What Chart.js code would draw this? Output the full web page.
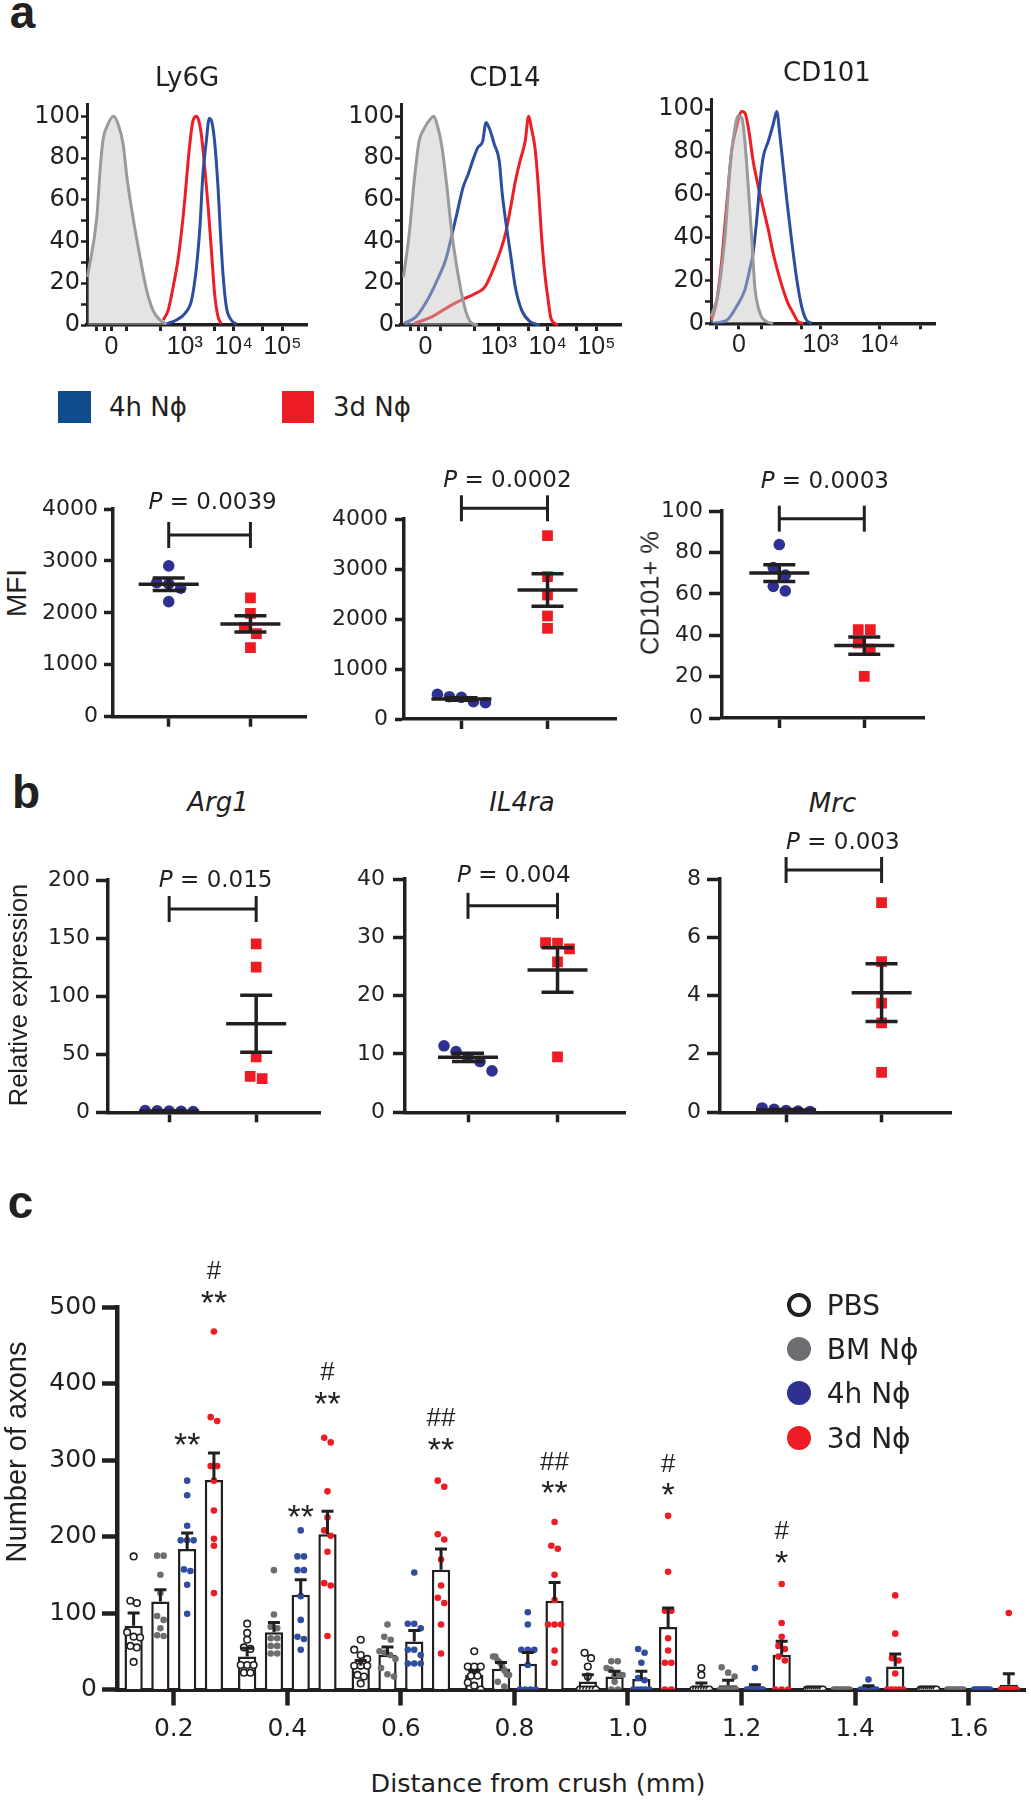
<!DOCTYPE html>
<html>
<head>
<meta charset="utf-8">
<title>Neutrophil subsets</title>
<script src="https://cdn.jsdelivr.net/npm/chart.js@4.4.1/dist/chart.umd.min.js"></script>
<style>
  body { margin: 0; background: #fff; }
  #fig { position: relative; width: 1031px; height: 1800px; overflow: hidden; background: #fff; color: #231f20; }
  #fig canvas { position: absolute; }
  .t, .l, .r { position: absolute; white-space: nowrap; line-height: 1; }
  .t { transform: translate(-50%, -50%); }
  .l { transform: translate(0, -50%); }
  .r { transform: translate(-50%, -50%) rotate(-90deg); }
  .mk { position: absolute; box-sizing: border-box; }
</style>
</head>
<body>
<div id="fig"></div>
<script>
// ---------- data ----------
// a, top row: flow histograms as [display position, % of max]. 0 sits near 1.5, 10^3 at 3, 10^4 at 4, 10^5 at 5
const ly6gGray = [[1.01,23],[1.2,51.6],[1.27,75],[1.33,89],[1.4,94.6],[1.54,100],[1.64,96],[1.74,86.5],[1.81,72],[1.91,56],[2.05,37],[2.22,16.7],[2.35,7],[2.49,2.4],[2.63,0.5]];
const ly6gBlue = [[2.63,0.5],[2.83,2.4],[3.0,5.5],[3.14,12],[3.24,28],[3.31,47],[3.37,72],[3.44,88],[3.5,99],[3.55,97.6],[3.61,88],[3.68,66],[3.73,44],[3.78,25],[3.85,8.7],[3.95,2.4],[4.06,0.5]];
const ly6gRed = [[2.56,2.4],[2.66,7],[2.76,18],[2.86,31],[2.93,44],[3.0,60],[3.07,79],[3.14,94],[3.17,98],[3.24,100],[3.29,97.6],[3.34,91],[3.41,75],[3.48,56],[3.55,34],[3.61,15],[3.68,4],[3.75,0.5]];

const cd14Gray = [[1.05,23],[1.17,44],[1.27,69],[1.37,88],[1.47,94],[1.61,99],[1.67,100],[1.74,96],[1.84,85],[1.94,66],[2.04,44],[2.14,28],[2.24,15],[2.34,5.5],[2.44,1],[2.57,0]];
const cd14Blue = [[1.07,0.8],[1.31,4],[1.54,12],[1.71,20],[1.91,31],[2.01,40],[2.14,53],[2.27,66],[2.37,72],[2.47,79],[2.57,85],[2.67,88],[2.74,97],[2.81,94],[2.91,86.5],[3.01,78.5],[3.07,63],[3.14,50],[3.24,34],[3.34,18],[3.47,7],[3.64,1.6],[3.84,0]];
const cd14Red = [[1.27,0.8],[1.64,4],[1.97,8.7],[2.24,12],[2.51,15],[2.71,18],[2.91,28],[3.04,36],[3.14,44],[3.24,56],[3.34,69],[3.44,79],[3.54,88],[3.61,100],[3.67,94],[3.74,85],[3.81,66],[3.87,44],[3.94,25],[4.01,12],[4.07,3],[4.21,0]];

const cd101Gray = [[1.15,3],[1.27,14],[1.39,42],[1.47,73],[1.53,87],[1.61,97],[1.67,96],[1.72,85.6],[1.78,63.6],[1.84,38.8],[1.89,17],[1.98,4.6],[2.09,0.8],[2.2,0]];
const cd101Blue = [[1.19,0],[1.42,1.5],[1.58,7.8],[1.72,15.5],[1.81,26],[1.86,32.6],[1.92,48],[1.98,66.7],[2.03,77.5],[2.12,85.3],[2.2,93],[2.26,99],[2.31,88.4],[2.37,73],[2.43,57.4],[2.51,38.8],[2.6,20],[2.68,7.8],[2.76,1.5],[2.85,0]];
const cd101Red = [[1.16,1.5],[1.25,11],[1.33,29],[1.42,57],[1.5,80.6],[1.58,91.5],[1.67,99],[1.72,98.4],[1.78,91.5],[1.86,76],[1.95,63.6],[2.03,54],[2.12,43.4],[2.2,32.6],[2.29,23],[2.37,15.5],[2.45,9.3],[2.54,4.6],[2.62,0.8],[2.71,0]];

const decadeTicks = [1.5, 3, 4, 5];
const decadeLabels = ['0', '10³', '10⁴', '10⁵'];
const decadeMinor = [1.2, 1.35, 1.8, 2.5, 3.6, 4.6];
const cd101Ticks = [1.62, 3, 4];
const cd101Labels = ['0', '10³', '10⁴'];
const cd101Minor = [1.25, 2.0, 2.68, 4.69];
const pctTicks = [0, 10, 20, 30, 40, 50, 60, 70, 80, 90, 100];

// a, second row: 4h (blue) vs 3d (red)
const ly6gMfi4h = [2904, 2582, 2557, 2474, 2216];
const ly6gMfi3d = [2290, 1990, 1720, 1600, 1330];
const ly6gMfiMean = [2550, 1786], ly6gMfiSem = [120, 157];
const cd14Mfi4h = [494, 446, 434, 346, 326];
const cd14Mfi3d = [3667, 2847, 2480, 2060, 1813];
const cd14MfiMean = [400, 2580], cd14MfiSem = [25, 326];
const cd101Pct4h = [83.8, 72.7, 69, 63.6, 61.4];
const cd101Pct3d = [42.7, 42.7, 36.2, 33.3, 20.1];
const cd101PctMean = [70, 35], cd101PctSem = [4.05, 4.15];
const mfiTicks = [0, 1000, 2000, 3000, 4000];

// b: relative expression
const arg1_4h = [1.5, 1.2, 1, 0.8, 0.6];
const arg1_3d = [145, 125, 47.7, 31, 29];
const arg1Mean = [1, 76.3], arg1Sem = [0.2, 24.5];
const il4ra4h = [11.4, 10.4, 9.4, 8.7, 7.1];
const il4ra3d = [29.1, 29, 28, 25.8, 9.5];
const il4raMean = [9.43, 24.4], il4raSem = [0.7, 3.8];
const mrc4h = [0.15, 0.1, 0.06, 0.04, 0.03];
const mrc3d = [7.19, 5.17, 3.74, 3.07, 1.37];
const mrcMean = [0.08, 4.1], mrcSem = [0.02, 0.99];

const pValues = ['0.0039', '0.0002', '0.0003', '0.015', '0.004', '0.003'];
const bracketLevels = [3500, 4214, 96.3, 175, 35.4, 8.31];

// c: axons per distance from crush
const distances = [0.2, 0.4, 0.6, 0.8, 1.0, 1.2, 1.4, 1.6];
const treatments = ['PBS', 'BM Nϕ', '4h Nϕ', '3d Nϕ'];
const pbsMean = [83.4, 43.3, 31, 19.3, 10.6, 5, 0, 0];
const pbsSem = [16.6, 10.7, 7, 5.7, 8.7, 3.5, 0, 0];
const bmMean = [115, 74.7, 45.5, 27, 17, 5.4, 0, 0];
const bmSem = [15.5, 13, 10, 8.4, 6.7, 6.6, 0, 0];
const h4Mean = [183.7, 124, 62.9, 33.7, 13.7, 4, 2, 0];
const h4Sem = [20.9, 19.5, 14.1, 14.8, 10, 2.3, 3, 0];
const d3Mean = [274, 203, 156.6, 116, 81.7, 45.5, 30.2, 6.3];
const d3Sem = [35, 30, 27.1, 24, 24.8, 17.5, 16.2, 14.3];

const pbsPts = [
  [174, 116, 113, 75, 69, 68, 57, 55, 36],
  [86, 74, 65, 55, 53, 32, 32, 32, 22, 22],
  [65, 52, 45, 40, 31, 31, 31, 19, 17, 8],
  [50, 30, 30, 30, 18, 18, 9, 5, 0],
  [48, 41, 30, 17, 0, 0, 0, 0, 0, 0],
  [28, 19, 0, 0, 0, 0, 0, 0, 0],
  [0, 0, 0, 0, 0, 0, 0, 0, 0],
  [0, 0, 0, 0, 0, 0, 0, 0, 0]
];
const bmPts = [
  [175, 175, 150, 126, 96, 91, 80, 71, 70],
  [156, 98, 82, 80, 67, 67, 57, 57, 47, 47],
  [85, 69, 65, 50, 48, 45, 40, 28, 20, 17],
  [43, 43, 38, 35, 30, 25, 20, 19, 10, 4],
  [37, 37, 28, 26, 19, 19, 19, 10, 0, 0],
  [29, 22, 17, 0, 0, 0, 0, 0, 0, 0],
  [0, 0, 0, 0, 0, 0, 0, 0, 0],
  [0, 0, 0, 0, 0, 0, 0, 0, 0]
];
const h4Pts = [
  [273, 254, 214, 195, 195, 195, 157, 155, 137, 99],
  [208, 174, 174, 156, 156, 122, 91, 69, 66, 52],
  [153, 86, 86, 80, 52, 52, 45, 34, 34, 34],
  [101, 85, 52, 52, 52, 32, 0, 0, 0, 0],
  [53, 48, 35, 15, 12, 0, 0, 0, 0, 0],
  [28, 0, 0, 0, 0, 0, 0, 0, 0],
  [13, 0, 0, 0, 0, 0, 0, 0, 0],
  [0, 0, 0, 0, 0, 0, 0, 0, 0]
];
const d3Pts = [
  [468, 356, 351, 292, 292, 273, 234, 197, 188, 126],
  [329, 323, 259, 225, 208, 201, 180, 139, 136, 70],
  [273, 265, 203, 196, 170, 136, 120, 113, 85, 47],
  [219, 188, 184, 150, 117, 85, 85, 85, 51, 35],
  [227, 154, 103, 103, 67, 51, 35, 35, 0, 0],
  [138, 87, 69, 57, 53, 43, 38, 0, 0, 0],
  [123, 73, 41, 38, 21, 0, 0, 0, 0, 0],
  [100, 0, 0, 0, 0, 0, 0, 0, 0, 0]
];
// [distance, treatment index, mark, level]
const sigMarks = [
  [0.2, 2, '**', 331], [0.2, 3, '**', 516], [0.2, 3, '#', 549],
  [0.4, 2, '**', 236], [0.4, 3, '**', 384], [0.4, 3, '#', 416],
  [0.6, 3, '**', 323.5], [0.6, 3, '##', 356],
  [0.8, 3, '**', 268], [0.8, 3, '##', 299],
  [1.0, 3, '*', 265], [1.0, 3, '#', 296],
  [1.2, 3, '*', 176], [1.2, 3, '#', 209]
];

// ---------- layout & style ----------
const INK = '#231f20';
const SANS = '"DejaVu Sans", sans-serif';
const ARIAL = '"Liberation Sans", Arial, sans-serif';
const BLUE = '#2e3192', RED = '#ed1c24', GRAY = '#6d6e71', DOTBLUE = '#2f4c9f';
const fig = document.getElementById('fig');

// plot areas in page pixels, axis ranges, and room around them [left, top, right, bottom]
const GEO = {
  h1: {L: 87, T: 103, R: 307, B: 325, xmin: 1.0, xmax: 5.5, ymax: 105.7, pad: [60, 14, 16, 40]},
  h2: {L: 401, T: 103, R: 621, B: 325, xmin: 1.0, xmax: 5.5, ymax: 105.7, pad: [60, 14, 16, 40]},
  h3: {L: 711, T: 98, R: 935, B: 323.3, xmin: 1.15, xmax: 4.93, ymax: 104.6, pad: [60, 14, 16, 40]},
  d1: {L: 113.3, T: 509, R: 306.7, B: 716.7, xmin: 0.318, xmax: 2.685, ymax: 4000, pad: [80, 40, 15, 30], tl: 9, tp: 6},
  d2: {L: 404.3, T: 519, R: 616.7, B: 719, xmin: 0.333, xmax: 2.8, ymax: 4000, pad: [80, 55, 15, 30], tl: 9, tp: 7},
  d3: {L: 721.7, T: 510.7, R: 924, B: 717.7, xmin: 0.326, xmax: 2.706, ymax: 100, pad: [80, 45, 15, 30], tl: 13, tp: 6},
  b1: {L: 108.3, T: 880, R: 320.6, B: 1112.3, xmin: 0.297, xmax: 2.737, ymax: 200, pad: [80, 30, 15, 30], tl: 12, tp: 6},
  b2: {L: 404.5, T: 879, R: 624.6, B: 1112.3, xmin: 0.296, xmax: 2.755, ymax: 40, pad: [80, 45, 15, 30], tl: 12, tp: 8},
  b3: {L: 720.4, T: 879, R: 951.7, B: 1112.3, xmin: 0.308, xmax: 2.73, ymax: 8, pad: [80, 50, 15, 30], tl: 13, tp: 6},
  c:  {L: 117, T: 1307.3, R: 1028, B: 1689.8, xmin: 0.1, xmax: 1.7, ymax: 500, pad: [100, 125, 3, 60]}
};

function txt(s, x, y, font, cls) {
  const d = document.createElement('div');
  d.className = cls || 't';
  d.textContent = s;
  d.style.left = x + 'px';
  d.style.top = y + 'px';
  d.style.font = font;
  fig.appendChild(d);
  return d;
}

function marker(x, y, w, h, css) {
  const d = document.createElement('div');
  d.className = 'mk';
  d.style.cssText += `left:${x}px;top:${y}px;width:${w}px;height:${h}px;` + css;
  fig.appendChild(d);
}

// the y axis takes the whole left margin and the x axis the whole bottom margin,
// so the plot area lands exactly on L/T/R/B
function addChart(g, cfg) {
  const w = Math.round(g.R - g.L + g.pad[0] + g.pad[2]);
  const h = Math.round(g.B - g.T + g.pad[1] + g.pad[3]);
  const cv = document.createElement('canvas');
  cv.width = w; cv.height = h;
  cv.style.left = (g.L - g.pad[0]) + 'px';
  cv.style.top = (g.T - g.pad[1]) + 'px';
  cv.style.width = w + 'px'; cv.style.height = h + 'px';
  fig.appendChild(cv);
  cfg.options.responsive = false;
  cfg.options.animation = false;
  cfg.options.events = [];
  cfg.options.layout = {padding: {left: 0, top: g.pad[1], right: w - g.pad[0] - (g.R - g.L), bottom: 0}};
  cfg.options.plugins = {legend: {display: false}, tooltip: {enabled: false}};
  cfg.options.scales.x.afterFit = s => { s.height = h - g.pad[1] - (g.B - g.T); };
  cfg.options.scales.y.afterFit = s => { s.width = g.pad[0]; };
  return new Chart(cv, cfg);
}

function axis(o) {
  return {
    type: 'linear', position: o.pos, min: o.min, max: o.max, bounds: 'data', offset: false,
    border: {display: true, width: o.bw, color: INK},
    grid: {display: true, offset: false, drawOnChartArea: false, drawTicks: true, tickLength: o.tl, tickWidth: o.tw, tickColor: INK},
    ticks: {display: !!o.font, color: INK, font: o.font, padding: o.pad || 0, autoSkip: false, maxRotation: 0, minRotation: 0,
            callback: o.cb || (v => String(v))},
    afterBuildTicks: s => { s.ticks = o.ticks.slice().sort((a, b) => a - b).map(v => ({value: v})); }
  };
}

// spread points that would overlap side by side, centred on cx
function swarm(vals, cx, thr, step, maxSpread) {
  const order = vals.map((v, i) => i).sort((a, b) => vals[b] - vals[a]);
  const out = new Array(vals.length);
  let cl = [];
  const flush = () => {
    const n = cl.length;
    let s = step;
    if (maxSpread && n > 1) s = Math.min(step, 2 * maxSpread / (n - 1));
    cl.forEach((idx, j) => { out[idx] = {x: cx + (j - (n - 1) / 2) * s, y: vals[idx]}; });
    cl = [];
  };
  order.forEach(i => {
    if (cl.length && vals[cl[cl.length - 1]] - vals[i] >= thr) flush();
    cl.push(i);
  });
  flush();
  return out;
}

function drawP(ctx, cx, cy, value, size) {
  const it = `italic ${size}px ${SANS}`, rg = `${size}px ${SANS}`;
  const rest = ' = ' + value;
  ctx.font = it; const w1 = ctx.measureText('P').width;
  ctx.font = rg; const w2 = ctx.measureText(rest).width;
  const x0 = cx - (w1 + w2) / 2;
  ctx.fillStyle = INK; ctx.textAlign = 'left'; ctx.textBaseline = 'middle';
  ctx.font = it; ctx.fillText('P', x0, cy);
  ctx.font = rg; ctx.fillText(rest, x0 + w1, cy);
}

// ---------- a: histograms ----------
function hist(g, gray, blue, red, major, labels, minor) {
  const ds = (pts, color, fill) => ({
    data: pts.map(p => ({x: p[0], y: p[1]})),
    borderColor: color, borderWidth: 3, pointRadius: 0,
    cubicInterpolationMode: 'monotone',
    fill: fill ? 'origin' : false,
    backgroundColor: fill ? 'rgba(195,195,195,0.45)' : 'transparent',
    clip: false
  });
  addChart(g, {
    type: 'line',
    data: {datasets: [ds(gray, '#9a9a9a', true), ds(blue, '#2d4ea0', false), ds(red, '#ee1d26', false)]},
    options: {
      scales: {
        x: axis({pos: 'bottom', min: g.xmin, max: g.xmax, ticks: major.concat(minor),
                 cb: v => { const i = major.indexOf(v); return i < 0 ? '' : labels[i]; },
                 bw: 3.5, tl: 6, tw: 3, pad: 1, font: {family: ARIAL, size: 25}}),
        y: axis({pos: 'left', min: 0, max: g.ymax, ticks: pctTicks, cb: v => (v % 20 === 0 ? String(v) : ''),
                 bw: 3, tl: 6, tw: 2.5, pad: 1, font: {family: SANS, size: 24}})
      }
    }
  });
}
hist(GEO.h1, ly6gGray, ly6gBlue, ly6gRed, decadeTicks, decadeLabels, decadeMinor);
hist(GEO.h2, cd14Gray, cd14Blue, cd14Red, decadeTicks, decadeLabels, decadeMinor);
hist(GEO.h3, cd101Gray, cd101Blue, cd101Red, cd101Ticks, cd101Labels, cd101Minor);

// ---------- a (row 2) and b: dot plots ----------
function dotPlot(g, blue, red, means, sems, yTicks, pIdx, pGap, pDx) {
  const pxX = (g.R - g.L) / (g.xmax - g.xmin), pxY = (g.B - g.T) / g.ymax;
  const thr = 10 / pxY, step = 12 / pxX;
  const clip = {left: false, top: false, right: false, bottom: 0};
  const stats = {
    id: 'stats',
    afterDatasetsDraw(chart) {
      const {ctx} = chart, x = chart.scales.x, y = chart.scales.y;
      const seg = (x1, y1, x2, y2) => { ctx.beginPath(); ctx.moveTo(x1, y1); ctx.lineTo(x2, y2); ctx.stroke(); };
      ctx.save();
      ctx.strokeStyle = INK; ctx.lineWidth = 3.5;
      means.forEach((m, i) => {
        const cx = x.getPixelForValue(i + 1);
        const ym = y.getPixelForValue(m), yt = y.getPixelForValue(m + sems[i]), yb = y.getPixelForValue(m - sems[i]);
        seg(cx - 30, ym, cx + 30, ym);
        seg(cx, yt, cx, yb);
        seg(cx - 16, yt, cx + 16, yt);
        seg(cx - 16, yb, cx + 16, yb);
      });
      const by = y.getPixelForValue(bracketLevels[pIdx]);
      const x1 = x.getPixelForValue(1), x2 = x.getPixelForValue(2);
      ctx.lineWidth = 3;
      seg(x1, by, x2, by);
      seg(x1, by - 13, x1, by + 13);
      seg(x2, by - 13, x2, by + 13);
      drawP(ctx, (x1 + x2) / 2 + pDx, by - pGap, pValues[pIdx], 23);
      ctx.restore();
    }
  };
  addChart(g, {
    type: 'scatter',
    data: {datasets: [
      {data: swarm(blue, 1, thr, step), pointStyle: 'circle', pointRadius: 5.8, backgroundColor: BLUE, borderWidth: 0, clip},
      {data: swarm(red, 2, thr, step), pointStyle: 'rect', pointRadius: 7.6, backgroundColor: RED, borderWidth: 0, clip}
    ]},
    options: {
      scales: {
        x: axis({pos: 'bottom', min: g.xmin, max: g.xmax, ticks: [1, 2], bw: 3.5, tl: 10, tw: 3.5}),
        y: axis({pos: 'left', min: 0, max: g.ymax, ticks: yTicks, bw: 3.5, tl: g.tl, tw: 3.5, pad: g.tp,
                 font: {family: SANS, size: 22}})
      }
    },
    plugins: [stats]
  });
}
dotPlot(GEO.d1, ly6gMfi4h, ly6gMfi3d, ly6gMfiMean, ly6gMfiSem, mfiTicks, 0, 32, 3);
dotPlot(GEO.d2, cd14Mfi4h, cd14Mfi3d, cd14MfiMean, cd14MfiSem, mfiTicks, 1, 27, 3);
dotPlot(GEO.d3, cd101Pct4h, cd101Pct3d, cd101PctMean, cd101PctSem, [0, 20, 40, 60, 80, 100], 2, 37, 3);
dotPlot(GEO.b1, arg1_4h, arg1_3d, arg1Mean, arg1Sem, [0, 50, 100, 150, 200], 3, 28, 3);
dotPlot(GEO.b2, il4ra4h, il4ra3d, il4raMean, il4raSem, [0, 10, 20, 30, 40], 4, 30, 1);
dotPlot(GEO.b3, mrc4h, mrc3d, mrcMean, mrcSem, [0, 2, 4, 6, 8], 5, 27, 9);

// ---------- c: grouped bars with dots ----------
(function () {
  const g = GEO.c;
  const CAT = 0.943, BARP = 0.683;
  const slotOff = k => 0.2 * CAT * ((k + 0.5) / 4 - 0.5);
  const pxX = (g.R - g.L) / (g.xmax - g.xmin), pxY = (g.B - g.T) / g.ymax;
  const thr = 6.6 / pxY, step = 6.5 / pxX, spread = 8 / pxX;
  const clip = {left: false, top: false, right: false, bottom: 0};
  const means = [pbsMean, bmMean, h4Mean, d3Mean];
  const sems = [pbsSem, bmSem, h4Sem, d3Sem];
  const pts = [pbsPts, bmPts, h4Pts, d3Pts];
  const dotStyle = [
    {backgroundColor: '#fff', borderColor: INK, borderWidth: 1.6},
    {backgroundColor: GRAY, borderWidth: 0},
    {backgroundColor: DOTBLUE, borderWidth: 0},
    {backgroundColor: RED, borderWidth: 0}
  ];
  const dots = pts.map((groupsPts, k) => Object.assign({
    type: 'scatter', label: treatments[k] + ' points',
    data: groupsPts.flatMap((vals, gi) => swarm(vals, distances[gi] + slotOff(k), thr, step, spread)),
    pointRadius: 3.3, clip
  }, dotStyle[k]));
  const bars = means.map((m, k) => ({
    type: 'bar', label: treatments[k],
    data: distances.map((d, i) => ({x: d, y: m[i]})),
    sem: sems[k],
    backgroundColor: '#fff', borderColor: INK, borderWidth: 2.5,
    categoryPercentage: CAT, barPercentage: BARP
  }));
  const extras = {
    id: 'cExtras',
    afterDatasetsDraw(chart) {
      const {ctx} = chart, x = chart.scales.x, y = chart.scales.y;
      ctx.save();
      ctx.strokeStyle = INK; ctx.lineWidth = 3;
      chart.data.datasets.forEach((ds, i) => {
        if (!ds.sem) return;
        chart.getDatasetMeta(i).data.forEach((bar, j) => {
          if (!ds.sem[j]) return;
          const top = y.getPixelForValue(ds.data[j].y + ds.sem[j]);
          ctx.beginPath();
          ctx.moveTo(bar.x, bar.y); ctx.lineTo(bar.x, top);
          ctx.moveTo(bar.x - 6, top); ctx.lineTo(bar.x + 6, top);
          ctx.stroke();
        });
      });
      ctx.fillStyle = INK; ctx.textAlign = 'center'; ctx.textBaseline = 'alphabetic';
      sigMarks.forEach(([d, k, mark, level]) => {
        const star = mark.includes('*');
        const size = star ? 34 : 26;
        ctx.font = `${size}px ${ARIAL}`;
        ctx.fillText(mark, x.getPixelForValue(d + slotOff(k)), y.getPixelForValue(level) + (star ? 0.57 : 0.35) * size);
      });
      ctx.restore();
    }
  };
  addChart(g, {
    type: 'bar',
    data: {datasets: dots.concat(bars)},
    options: {
      scales: {
        x: axis({pos: 'bottom', min: g.xmin, max: g.xmax, ticks: distances, cb: v => v.toFixed(1),
                 bw: 4, tl: 16, tw: 4.5, pad: 9, font: {family: SANS, size: 25}}),
        y: axis({pos: 'left', min: 0, max: g.ymax, ticks: [0, 100, 200, 300, 400, 500],
                 bw: 4.5, tl: 15, tw: 4.5, pad: 5, font: {family: SANS, size: 25}})
      }
    },
    plugins: [extras]
  });
})();

// ---------- text and legends ----------
const BOLD = `bold 46px ${ARIAL}`;
txt('a', 22.5, 12, BOLD);
txt('b', 26, 792, BOLD);
txt('c', 20.5, 1202, BOLD);

txt('Ly6G', 187, 77, `26px ${SANS}`);
txt('CD14', 505, 77, `26px ${SANS}`);
txt('CD101', 827, 72, `26px ${SANS}`);

marker(58, 391, 32.5, 31.5, 'background:#0f4c8c;');
txt('4h Nϕ', 109, 407, `26px ${SANS}`, 'l');
marker(281.7, 391, 32.5, 31.5, 'background:' + RED + ';');
txt('3d Nϕ', 333, 407, `26px ${SANS}`, 'l');

txt('MFI', 17, 593, `28px ${ARIAL}`, 'r');
txt('CD101+ %', 650, 593, `25.5px ${ARIAL}`, 'r');
txt('Relative expression', 18, 995, `25.5px ${ARIAL}`, 'r');
txt('Number of axons', 16, 1452, `29px ${ARIAL}`, 'r');

txt('Arg1', 218, 801.7, `italic 26px ${SANS}`);
txt('IL4ra', 522, 801.7, `italic 26px ${SANS}`);
txt('Mrc', 832.5, 802.5, `italic 26px ${SANS}`);

txt('Distance from crush (mm)', 538, 1783, `25.5px ${SANS}`);

const legendRows = [1305, 1349, 1393.3, 1438.3];
const legendCss = [
  'border:4.5px solid ' + INK + ';background:#fff;border-radius:50%;',
  'background:' + GRAY + ';border-radius:50%;',
  'background:' + BLUE + ';border-radius:50%;',
  'background:' + RED + ';border-radius:50%;'
];
treatments.forEach((name, k) => {
  marker(798.8 - 12, legendRows[k] - 12, 24, 24, legendCss[k]);
  txt(name, 826.7, legendRows[k], `28px ${SANS}`, 'l');
});
</script>
</body>
</html>
